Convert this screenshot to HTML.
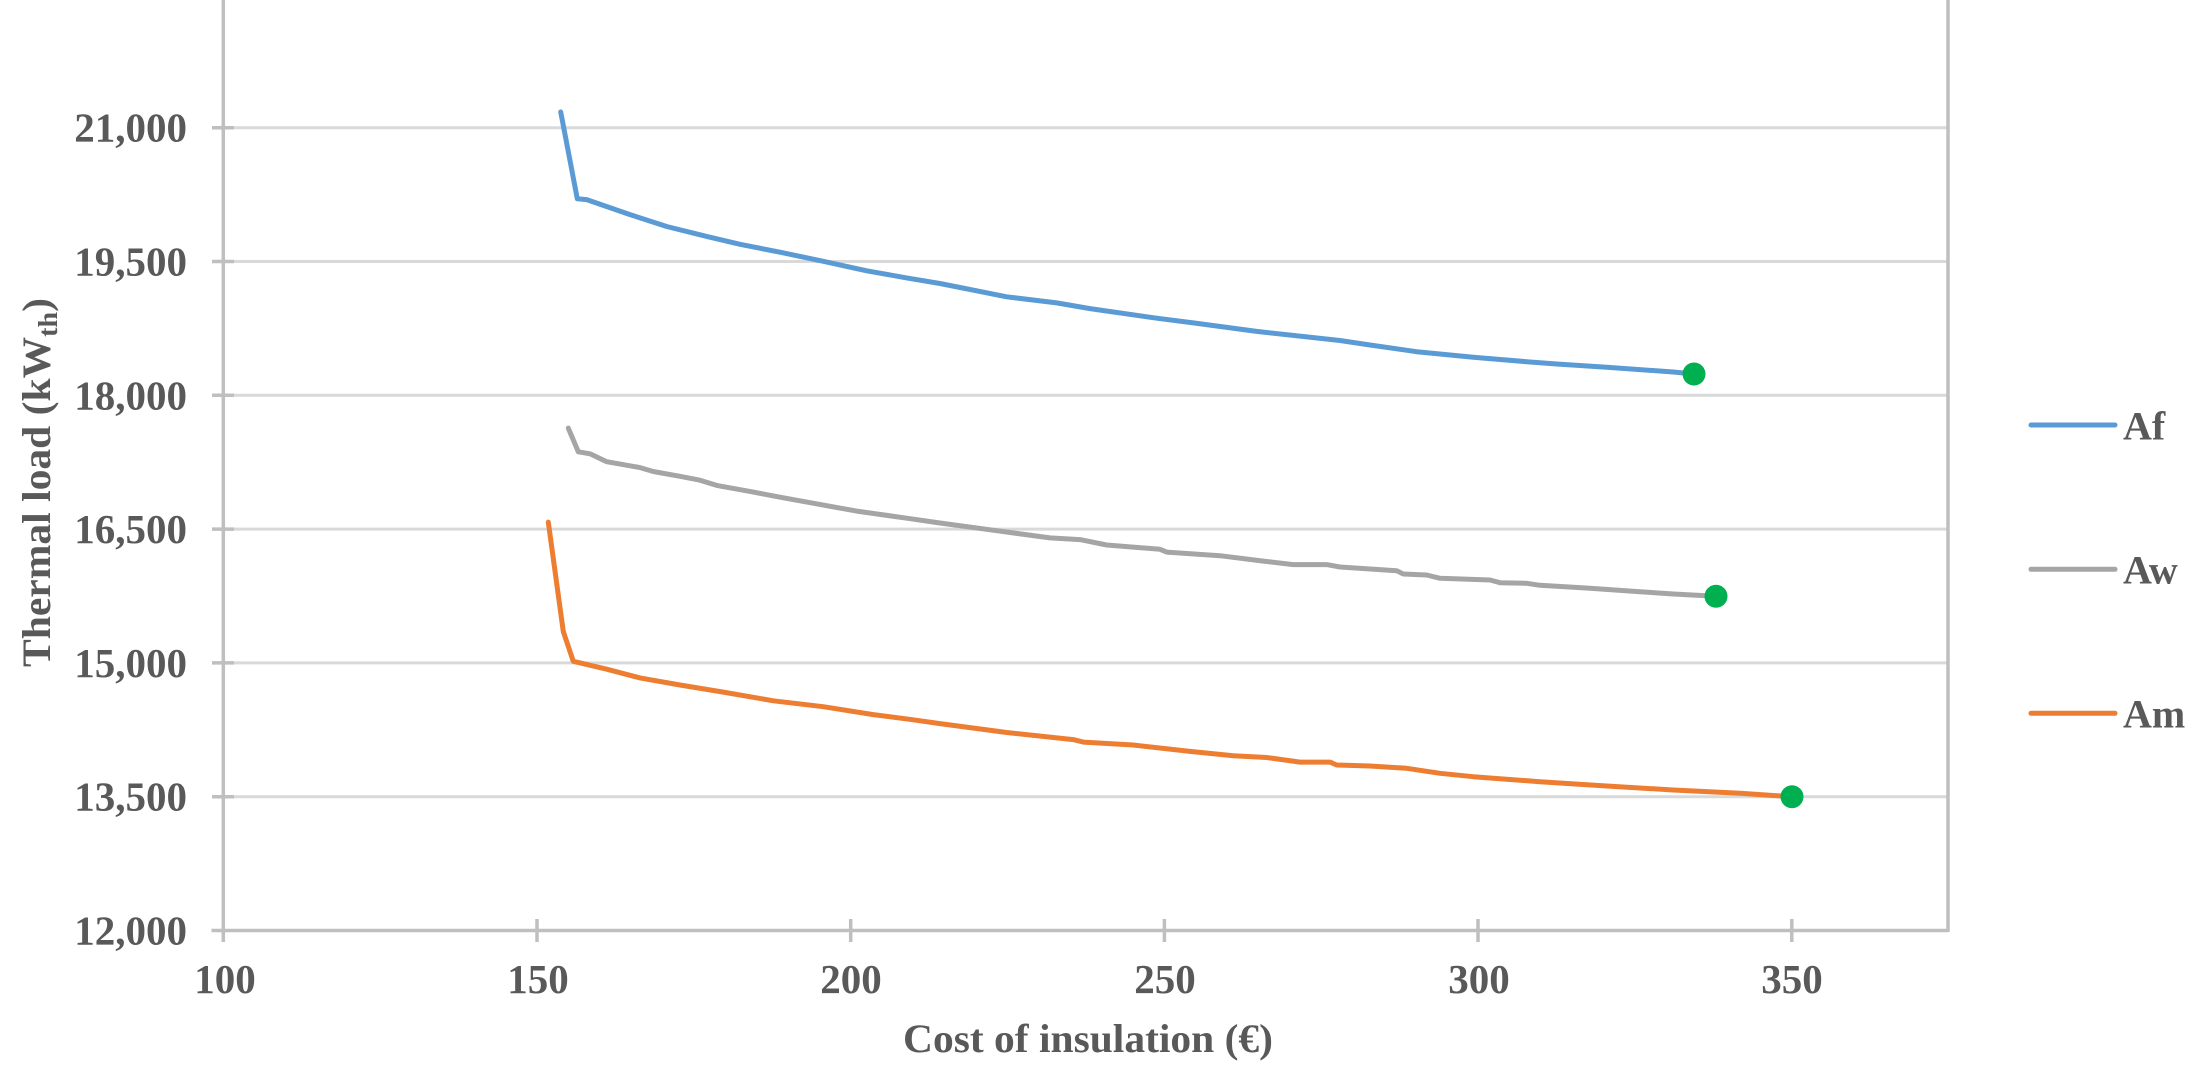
<!DOCTYPE html>
<html>
<head>
<meta charset="utf-8">
<style>
html,body{margin:0;padding:0;background:#fff;}
svg{display:block;}
text{font-family:"Liberation Serif","DejaVu Serif",serif;font-weight:bold;fill:#595959;}
</style>
</head>
<body>
<svg width="2202" height="1078" viewBox="0 0 2202 1078" xmlns="http://www.w3.org/2000/svg">
<rect width="2202" height="1078" fill="#fff"/>
<!-- gridlines -->
<g stroke="#d9d9d9" stroke-width="3">
<line x1="223" y1="796.7" x2="1948" y2="796.7"/>
<line x1="223" y1="662.9" x2="1948" y2="662.9"/>
<line x1="223" y1="529.1" x2="1948" y2="529.1"/>
<line x1="223" y1="395.3" x2="1948" y2="395.3"/>
<line x1="223" y1="261.5" x2="1948" y2="261.5"/>
<line x1="223" y1="127.7" x2="1948" y2="127.7"/>
</g>
<!-- axes -->
<g stroke="#bfbfbf" stroke-width="3.5">
<line x1="223.3" y1="0" x2="223.3" y2="942"/>
<line x1="211.5" y1="930.5" x2="1948" y2="930.5"/>
<line x1="1948" y1="0" x2="1948" y2="932"/>
<!-- y ticks -->
<line x1="212" y1="796.7" x2="234" y2="796.7"/>
<line x1="212" y1="662.9" x2="234" y2="662.9"/>
<line x1="212" y1="529.1" x2="234" y2="529.1"/>
<line x1="212" y1="395.3" x2="234" y2="395.3"/>
<line x1="212" y1="261.5" x2="234" y2="261.5"/>
<line x1="212" y1="127.7" x2="234" y2="127.7"/>
<!-- x ticks -->
<line x1="537" y1="919" x2="537" y2="942"/>
<line x1="850.7" y1="919" x2="850.7" y2="942"/>
<line x1="1164.4" y1="919" x2="1164.4" y2="942"/>
<line x1="1478" y1="919" x2="1478" y2="942"/>
<line x1="1791.8" y1="919" x2="1791.8" y2="942"/>
</g>
<!-- y tick labels -->
<g font-size="41" text-anchor="end">
<text x="187" y="944.5">12,000</text>
<text x="187" y="810.7">13,500</text>
<text x="187" y="676.9">15,000</text>
<text x="187" y="543.1">16,500</text>
<text x="187" y="409.3">18,000</text>
<text x="187" y="275.5">19,500</text>
<text x="187" y="141.7">21,000</text>
</g>
<!-- x tick labels -->
<g font-size="41" text-anchor="middle">
<text x="225" y="993">100</text>
<text x="538" y="993">150</text>
<text x="851" y="993">200</text>
<text x="1165" y="993">250</text>
<text x="1479" y="993">300</text>
<text x="1792" y="993">350</text>
</g>
<!-- axis titles -->
<text x="903" y="1052" font-size="40" textLength="370" lengthAdjust="spacingAndGlyphs">Cost of insulation  (€)</text>
<text transform="translate(50,667) rotate(-90)" font-size="40" textLength="369" lengthAdjust="spacingAndGlyphs">Thermal load (kW<tspan font-size="27" dy="7">th</tspan><tspan dy="-7">)</tspan></text>
<!-- series -->
<g fill="none" stroke-width="5" stroke-linejoin="round" stroke-linecap="round">
<polyline stroke="#5b9bd5" points="560.7,111.9 577.3,198.8 586.7,199.6 630,214.6 666.7,226.5 706.7,236.4 740,244.3 780,252.2 823.3,261.3 866.7,270.8 906.7,277.9 940,283.5 1006.7,296.8 1056.7,302.9 1090,308.6 1156.7,318.2 1193.3,322.9 1256.7,331.4 1340,340.5 1370,345 1416.7,351.7 1473.3,357.3 1526.7,361.7 1556.7,364 1606.7,367.3 1673.3,372 1694,374"/>
<polyline stroke="#a5a5a5" points="568.3,428.1 578.3,451.8 590,453.8 606.7,461.7 640,467.6 653.3,471.5 680,476.3 700,480.2 716.7,485.4 753.3,492.1 780,497.2 823.3,505.1 856.7,511.1 906.7,518.2 940,523 996.7,530.7 1050,537.9 1080,539.6 1106.7,545 1160,549.3 1166.7,552.1 1220,555.7 1263.3,561.1 1293.3,564.6 1326.7,564.6 1340,567 1396.7,570.7 1403.3,574 1426.7,575 1440,578.3 1490,580 1500,582.7 1526.7,583.3 1540,585.3 1590,588.3 1640,591.7 1673.3,594 1716,596.3"/>
<polyline stroke="#ed7d31" points="548.3,522.1 563.3,631.6 573.3,661.3 606.7,669.2 640,677.9 680,685 723.3,692.1 773.3,700.8 823.3,706.7 873.3,714.6 913.3,719.8 940,723.6 1006.7,732.5 1073.3,739.6 1083.3,742.1 1133.3,745 1190,751.4 1233.3,755.7 1266.7,757.5 1300,762.1 1330,762.1 1336.7,765 1370,766 1406.7,768.3 1440,773.3 1473.3,776.7 1540,781.7 1606.7,786 1673.3,790 1740,793.3 1792,796.7"/>
</g>
<!-- end markers -->
<g fill="#00b050">
<circle cx="1694" cy="374" r="11.5"/>
<circle cx="1716" cy="596.3" r="11.5"/>
<circle cx="1792" cy="796.7" r="11.5"/>
</g>
<!-- legend -->
<g stroke-width="5" stroke-linecap="round">
<line x1="2031" y1="425" x2="2115" y2="425" stroke="#5b9bd5"/>
<line x1="2031" y1="569.3" x2="2115" y2="569.3" stroke="#a5a5a5"/>
<line x1="2031" y1="713.3" x2="2115" y2="713.3" stroke="#ed7d31"/>
</g>
<g font-size="40">
<text x="2123" y="439.5">Af</text>
<text x="2123" y="583.5">Aw</text>
<text x="2123" y="727.5">Am</text>
</g>
</svg>
</body>
</html>
